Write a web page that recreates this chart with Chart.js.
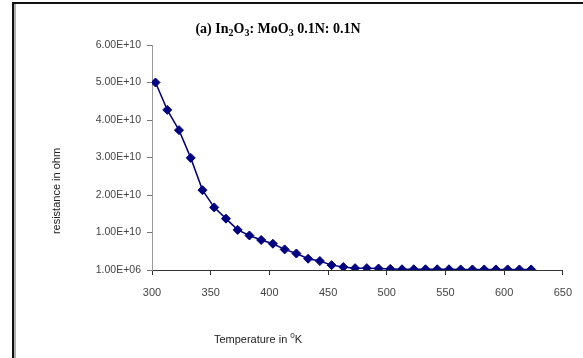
<!DOCTYPE html>
<html>
<head>
<meta charset="utf-8">
<script src="https://cdn.jsdelivr.net/npm/chart.js@4"></script>
<style>
  html, body { margin: 0; padding: 0; background: #fff; }
  #wrap { position: relative; width: 583px; height: 358px; }
  #frame { position: absolute; left: 12px; top: 2px; right: 0; bottom: 0; border-left: 2px solid #111; border-top: 2px solid #111; pointer-events: none; }
  #frame2 { position: absolute; left: 14px; top: 4px; bottom: 0; width: 2px; background: #b0b0b0; pointer-events: none; }
</style>
</head>
<body>
<div id="wrap">
  <canvas id="chart" width="583" height="358"></canvas>
  <div id="frame"></div>
  <div id="frame2"></div>
</div>
<script>
// (a) In2O3: MoO3 0.1N: 0.1N - resistencia vs temperatura
const temperatures = [303, 313, 323, 333, 343, 353, 363, 373, 383, 393, 403, 413, 423, 433, 443, 453, 463,
  473, 483, 493, 503, 513, 523, 533, 543, 553, 563, 573, 583, 593, 603, 613, 623];
const resistance = [5.0e10, 4.27e10, 3.73e10, 2.99e10, 2.13e10, 1.67e10, 1.37e10, 1.07e10, 0.92e10, 0.80e10,
  0.70e10, 0.55e10, 0.44e10, 0.30e10, 0.24e10, 0.13e10, 0.08e10, 0.05e10, 0.05e10, 0.04e10, 0.03e10,
  0.02e10, 0.02e10, 0.02e10, 0.02e10, 0.02e10, 0.015e10, 0.015e10, 0.015e10, 0.015e10, 0.015e10, 0.015e10, 0.015e10];
const xTicks = [300, 350, 400, 450, 500, 550, 600, 650];
const yTicks = [1e6, 1e10, 2e10, 3e10, 4e10, 5e10, 6e10];

// formato tipo Excel: 1.00E+10
function sci(v){
  const s = Number(v).toExponential(2).toUpperCase();
  const m = s.match(/^(.*)E([+-])(\d+)$/);
  if(!m) return s;
  return m[1] + 'E' + m[2] + (m[3].length < 2 ? '0' + m[3] : m[3]);
}

// dibuja texto con sub/superindices: parts = [[texto, 'sub'|'sup'|null], ...]
function drawParts(ctx, parts, cx, cy, size, family, weight){
  const big = `${weight} ${size}px ${family}`;
  const small = `${weight} ${Math.round(size*0.7)}px ${family}`;
  let w = 0;
  parts.forEach(p => { ctx.font = p[1] ? small : big; w += ctx.measureText(p[0]).width; });
  let x = cx - w/2;
  ctx.textBaseline = 'middle';
  ctx.textAlign = 'left';
  parts.forEach(p => {
    ctx.font = p[1] ? small : big;
    const dy = p[1] === 'sub' ? size*0.3 : (p[1] === 'sup' ? -size*0.35 : 0);
    ctx.fillText(p[0], x, cy + dy);
    x += ctx.measureText(p[0]).width;
  });
}

const titlesPlugin = {
  id: 'titles',
  afterDraw(chart){
    const ctx = chart.ctx;
    ctx.save();
    ctx.fillStyle = '#000';
    drawParts(ctx, [['(a) In', null], ['2', 'sub'], ['O', null], ['3', 'sub'], [': MoO', null], ['3', 'sub'], [' 0.1N: 0.1N', null]],
      278, 29, 14, '"Liberation Serif", "Times New Roman", serif', 'bold');
    ctx.fillStyle = '#222';
    drawParts(ctx, [['Temperature in ', null], ['0', 'sup'], ['K', null]], 258, 340, 11, '"Liberation Sans", Arial, sans-serif', 'normal');
    ctx.translate(57, 191);
    ctx.rotate(-Math.PI/2);
    drawParts(ctx, [['resistance in ohm', null]], 0, 0, 11, '"Liberation Sans", Arial, sans-serif', 'normal');
    ctx.restore();
  }
};

new Chart(document.getElementById('chart'), {
  type: 'line',
  data: {
    datasets: [{
      data: temperatures.map((t, i) => ({ x: t, y: resistance[i] })),
      borderColor: '#000080',
      backgroundColor: '#000080',
      borderWidth: 1.5,
      pointStyle: 'rectRot',
      pointRadius: 4.5,
      pointBorderWidth: 1,
      tension: 0
    }]
  },
  options: {
    responsive: false,
    animation: false,
    layout: { padding: { left: 20, right: 20, top: 45, bottom: 0 } },
    plugins: { legend: { display: false }, tooltip: { enabled: false } },
    scales: {
      x: {
        type: 'linear',
        min: 300, max: 650,
        afterBuildTicks: s => { s.ticks = xTicks.map(v => ({ value: v })); },
        afterFit: s => { s.height = 88; },
        border: { color: '#333', width: 1 },
        grid: { drawOnChartArea: false, drawTicks: true, tickLength: 5, color: '#333' },
        ticks: { color: '#444', padding: 11, maxRotation: 0, font: { family: '"Liberation Sans", Arial, sans-serif', size: 11 } }
      },
      y: {
        min: 1e6, max: 6e10,
        afterBuildTicks: s => { s.ticks = yTicks.map(v => ({ value: v })); },
        afterFit: s => { s.width = 132; },
        border: { color: '#999', width: 1 },
        grid: { drawOnChartArea: false, drawTicks: true, tickLength: 5, color: '#777' },
        ticks: { color: '#444', padding: 6, callback: v => sci(v), font: { family: '"Liberation Sans", Arial, sans-serif', size: 10.5 } }
      }
    }
  },
  plugins: [titlesPlugin]
});
</script>
</body>
</html>
